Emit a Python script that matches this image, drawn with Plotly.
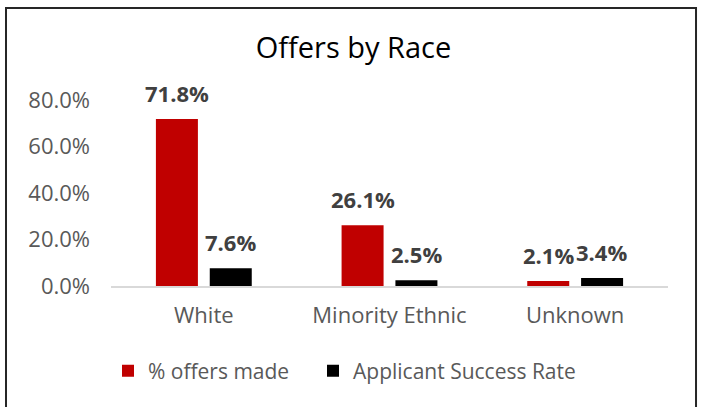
import plotly.graph_objects as go

categories = ["White", "Minority Ethnic", "Unknown"]
offers_made = [71.8, 26.1, 2.1]
success_rate = [7.6, 2.5, 3.4]
y_ticks = [0, 20, 40, 60, 80]
y_tick_labels = ["0.0%", "20.0%", "40.0%", "60.0%", "80.0%"]

RED = "#C00000"
BLACK = "#000000"
FONT = "Open Sans"

fig = go.Figure()
fig.add_trace(go.Bar(x=categories, y=offers_made, name="% offers made",
                     marker=dict(color=RED, line=dict(width=0)), legend="legend"))
fig.add_trace(go.Bar(x=categories, y=success_rate, name="Applicant Success Rate",
                     marker=dict(color=BLACK, line=dict(width=0)), legend="legend2"))

annotations = []
for vals, shift in ((offers_made, -26.5), (success_rate, 26.5)):
    for c, v in zip(categories, vals):
        annotations.append(dict(x=c, y=v, xref="x", yref="y", text=f"{v:.1f}%",
                                showarrow=False, xshift=shift, yshift=26,
                                yanchor="middle",
                                font=dict(family=FONT, size=22, color="#404040",
                                          weight="bold")))

legend_font = dict(family=FONT, size=21, color="#595959")

fig.update_layout(
    width=707, height=407,
    margin=dict(l=111, r=39, t=100, b=121),
    paper_bgcolor="white", plot_bgcolor="white",
    barmode="group", bargap=0.42, bargroupgap=0.22,
    title=dict(text="Offers by Race", x=0.5, xanchor="center", y=0.882, yanchor="middle",
               font=dict(family=FONT, size=29, color="#000000")),
    xaxis=dict(showline=True, linecolor="#D9D9D9", linewidth=2, ticks="",
               ticklabelstandoff=9,
               tickfont=dict(family=FONT, size=22, color="#595959"), showgrid=False),
    yaxis=dict(range=[0, 80], tickvals=y_ticks, ticktext=y_tick_labels,
               showgrid=False, showline=False, zeroline=False, ticks="",
               ticklabelstandoff=20,
               tickfont=dict(family=FONT, size=22, color="#595959")),
    legend=dict(orientation="h", x=(108 - 111) / 557, xanchor="left", y=-0.457,
                yanchor="middle", font=legend_font),
    legend2=dict(orientation="h", x=(313 - 111) / 557, xanchor="left", y=-0.457,
                 yanchor="middle", font=legend_font),
    annotations=annotations,
    shapes=[dict(type="rect", xref="paper", yref="paper",
                 x0=-0.1885, x1=1.0503, y0=-0.7, y1=1.495,
                 line=dict(color="#262626", width=2), fillcolor="rgba(0,0,0,0)")],
    showlegend=True,
)

fig.write_html("out.html", config={"displayModeBar": False},
               post_script="document.body.style.margin='0';")
